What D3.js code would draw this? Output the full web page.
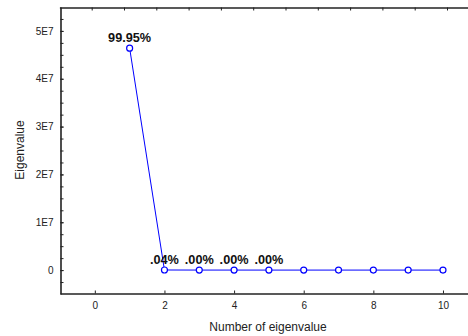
<!DOCTYPE html>
<html>
<head>
<meta charset="utf-8">
<script src="https://cdn.jsdelivr.net/npm/d3@7"></script>
<style>
  body { margin: 0; background: #fff; }
  svg { display: block; font-family: "Liberation Sans", Arial, sans-serif; }
  .axis text { font-size: 10px; fill: #222; }
  .axis path, .axis line { stroke: #222; }
</style>
</head>
<body>
<svg width="468" height="336"></svg>
<script>
// eigenvalue number and value
const eigenNumbers = [1, 2, 3, 4, 5, 6, 7, 8, 9, 10];
const eigenValues = [46400000, 18600, 2100, 1100, 600, 350, 200, 120, 70, 40];
// percent labels shown above the first points
const percentLabels = ["99.95%", ".04%", ".00%", ".00%", ".00%"];

const xTicks = [0, 2, 4, 6, 8, 10];
const yTicks = [0, 1e7, 2e7, 3e7, 4e7, 5e7];
const yMinor = d3.range(-2.5e6, 5.5e7, 2.5e6);

const svg = d3.select("svg");

const x = d3.scaleLinear().domain([-1, 11]).range([60, 477.8]);
const y = d3.scaleLinear().domain([-5e6, 5.5e7]).range([294, 7]);
// ticks along the top edge don't line up with the bottom ones
const xTop = d3.scaleLinear().domain([0, 13]).range([59.4, 59.4 + 13 * 32.3]);

// top edge
svg.append("g")
	.attr("class", "axis")
	.attr("transform", "translate(0,7.5)")
	.call(d3.axisTop(xTop).tickValues(d3.range(1, 13)).tickSizeInner(-3).tickSizeOuter(0).tickFormat(""))
	.call(g => g.select(".domain").attr("stroke-width", 1.6).attr("stroke", "#111"));

// bottom axis
svg.append("g")
	.attr("class", "axis")
	.attr("transform", "translate(0,293.5)")
	.call(d3.axisBottom(x).tickValues(xTicks).tickSizeInner(-3).tickSizeOuter(0).tickPadding(8))
	.call(g => g.select(".domain").attr("stroke-width", 1.6).attr("stroke", "#555"));

// left axis, minor ticks then major
svg.append("g")
	.attr("class", "axis")
	.attr("transform", "translate(60.5,0)")
	.call(d3.axisLeft(y).tickValues(yMinor).tickSizeInner(-3).tickSizeOuter(0).tickFormat(""))
	.call(g => g.select(".domain").attr("stroke-width", 1.6).attr("stroke", "#444"));

svg.append("g")
	.attr("class", "axis")
	.attr("transform", "translate(60.5,0)")
	.call(d3.axisLeft(y).tickValues(yTicks).tickSizeInner(-3).tickSizeOuter(0).tickPadding(7)
		.tickFormat(d => d === 0 ? "0" : (d / 1e7) + "E7"))
	.call(g => g.select(".domain").remove());

// line and points
const pts = eigenNumbers.map((n, i) => ({ n: n, v: eigenValues[i], label: percentLabels[i] }));

svg.append("path")
	.datum(pts)
	.attr("fill", "none")
	.attr("stroke", "#0000ff")
	.attr("stroke-width", 1)
	.attr("d", d3.line().x(d => x(d.n)).y(d => y(d.v)));

svg.selectAll(".pt")
	.data(pts)
	.enter()
	.append("circle")
	.attr("class", "pt")
	.attr("cx", d => x(d.n))
	.attr("cy", d => y(d.v))
	.attr("r", 3)
	.attr("fill", "#fff")
	.attr("stroke", "#0000ff")
	.attr("stroke-width", 1.2);

svg.selectAll(".pct")
	.data(pts.filter(d => d.label))
	.enter()
	.append("text")
	.attr("class", "pct")
	.attr("x", d => x(d.n))
	.attr("y", d => y(d.v) - 6)
	.attr("text-anchor", "middle")
	.attr("font-size", 12.7)
	.attr("font-weight", "bold")
	.attr("fill", "#111")
	.text(d => d.label);

// axis titles
svg.append("text")
	.attr("x", 268)
	.attr("y", 331)
	.attr("text-anchor", "middle")
	.attr("font-size", 12)
	.attr("fill", "#222")
	.text("Number of eigenvalue");

svg.append("text")
	.attr("transform", "translate(24,150) rotate(-90)")
	.attr("text-anchor", "middle")
	.attr("font-size", 12)
	.attr("fill", "#222")
	.text("Eigenvalue");
</script>
</body>
</html>
